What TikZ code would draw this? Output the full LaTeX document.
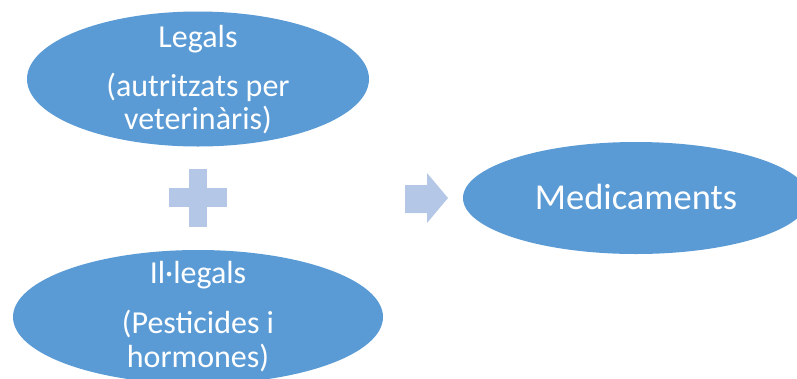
\documentclass[tikz,border=0pt]{standalone}
\usepackage{fontspec}
\setmainfont{Carlito}
\usetikzlibrary{shapes.geometric}
\definecolor{ovalblue}{HTML}{5B9BD5}
\definecolor{signblue}{HTML}{B4C7E7}
\begin{document}
\begin{tikzpicture}[x=1pt,y=-1pt,
  oval/.style={ellipse, fill=ovalblue, draw=none, inner sep=0pt},
  label/.style={text=white, anchor=base, inner sep=0pt, font=\fontsize{32}{38}\selectfont},
  biglabel/.style={label, font=\fontsize{36.5}{44}\selectfont},
  sign/.style={fill=signblue, draw=none}]
\useasboundingbox (0,0) rectangle (797,378);
\clip (0,0) rectangle (797,378);

% source ovals
\node[oval, minimum width=342pt, minimum height=135pt] (legal) at (198,79) {};
\node[oval, minimum width=370pt, minimum height=134pt] (illegal) at (198,317) {};
\node[oval, minimum width=346pt, minimum height=112pt] (med) at (636,198) {};

% labels
\node[label] (legalA) at (198,47) {Legals};
\node[label] (legalB) at (198,96) {(autritzats per};
\node[label] (legalC) at (198,129) {veterinàris)};
\node[label] (illegalA) at (198,283) {Il·legals};
\node[label] (illegalB) at (198,333) {(Pesticides i};
\node[label] (illegalC) at (198,367) {hormones)};
\node[biglabel] (medA) at (636,209) {Medicaments};

% plus sign
\fill[sign] (189,169) rectangle (207,227);
\fill[sign] (169,188) rectangle (227,207);

% block arrow
\fill[sign] (405,185) -- (427,185) -- (427,173) -- (448,198) -- (427,223)
  -- (427,213) -- (405,213) -- cycle;
\end{tikzpicture}
\end{document}
